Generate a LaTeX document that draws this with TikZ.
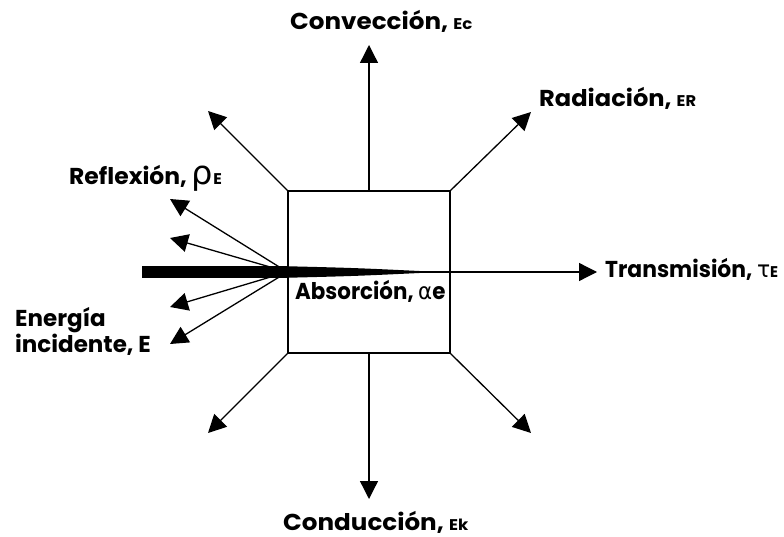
\documentclass[tikz,border=0pt]{standalone}
\usepackage{fontspec}
\usepackage{graphicx}
\setmainfont{Poppins}
\newfontfamily\grk{DejaVu Sans}
\usetikzlibrary{arrows.meta,calc}
\tikzset{
  arr/.style={line width=1.3pt,-{Triangle[length=18pt,width=18pt]}},
  lbl/.style={anchor=base west,inner sep=0pt,font=\fontsize{23}{22}\selectfont\bfseries}
}
\newcommand{\sbs}[1]{{\fontsize{15.5}{16}\selectfont #1}}
\newcommand{\hsc}[2]{\scalebox{#1}[1]{#2}}
\begin{document}
\begin{tikzpicture}[x=1pt,y=-1pt]
\useasboundingbox (0,0) rectangle (784,537);
\node[draw,line width=1.3pt,minimum width=162pt,minimum height=162pt,inner sep=0pt] (box) at (369,272) {};
% free ends
\coordinate (tc) at (369,45);
\coordinate (bc) at (369,499);
\coordinate (tl) at (208,111);
\coordinate (tr) at (531,112);
\coordinate (bl) at (208,433);
\coordinate (br) at (531,433);
\coordinate (trans) at (597,272);
\coordinate (r1) at (170,199);
\coordinate (r2) at (170,238);
\coordinate (r3) at (170,307);
\coordinate (r4) at (170,344);
\coordinate (src) at (142,272);
\coordinate (wtip) at (440,272);
% arrows
\draw[arr] (box.north) -- (tc);
\draw[arr] (box.south) -- (bc);
\draw[arr] (box.north west) -- (tl);
\draw[arr] (box.north east) -- (tr);
\draw[arr] (box.south west) -- (bl);
\draw[arr] (box.south east) -- (br);
\draw[arr] (box.west) -- (trans);
\draw[arr] (box.west) -- (r1);
\draw[arr] (box.west) -- (r2);
\draw[arr] (box.west) -- (r3);
\draw[arr] (box.west) -- (r4);
% incident beam and absorption wedge
\draw[line width=11.5pt] (src) -- (box.west);
\fill ($(box.west)+(0,-5.75)$) .. controls ($(box.west)+(70,-4)$) .. (wtip) .. controls ($(box.west)+(70,4)$) .. ($(box.west)+(0,5.75)$) -- cycle;
% labels
\node[lbl] (conv) at (290,30) {\hsc{1.07}{Convección, \sbs{Ec}}};
\node[lbl] (rad) at (539,107) {\hsc{1.05}{Radiación, \sbs{ER}}};
\node[lbl] (refl) at (69,185) {\hsc{1.02}{Reflexión, {\grk\mdseries\fontsize{33}{26}\selectfont ρ}\sbs{E}}};
\node[lbl] (tra) at (605,277) {\hsc{0.95}{Transmisión, {\grk\mdseries τ}\sbs{E}}};
\node[lbl,align=left] (ener) at (15,352) {Energía\\incidente, E};
\node[lbl] (abs) at (295,299) {\hsc{0.93}{Absorción, {\grk\mdseries α}e}};
\node[lbl] (cond) at (283,530) {\hsc{1.07}{Conducción, \sbs{Ek}}};
\end{tikzpicture}
\end{document}
